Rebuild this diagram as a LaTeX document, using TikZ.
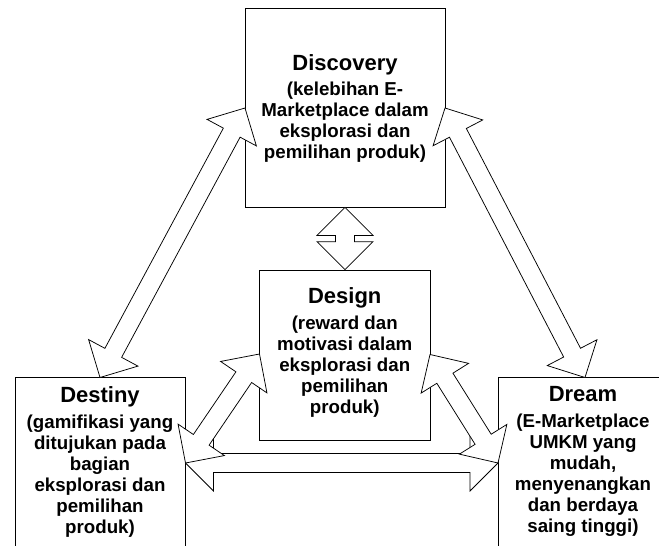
\documentclass[tikz,border=0pt]{standalone}
\usepackage{fontspec}
\setmainfont{Liberation Sans}
\usetikzlibrary{calc}
\tikzset{
  box/.style={draw=black, fill=white, line width=0.75pt, inner sep=0pt},
  arrowshape/.style={draw=black, fill=white, line width=0.75pt, line join=miter},
  label/.style={align=center, inner sep=0pt, anchor=north, text=black,
    font=\fontsize{18.7}{21}\selectfont\bfseries},
}
\newcommand\ttl[1]{{\fontsize{22}{21}\selectfont #1}\\[4.5pt]}
\newcommand\dblarr[2]{%
  \coordinate (h1) at ($(#1)!28pt!(#2)$);
  \coordinate (h2) at ($(#2)!28pt!(#1)$);
  \draw[arrowshape] (#1) -- ($(h1)!28pt!90:(#2)$) -- ($(h1)!9.5pt!90:(#2)$)
    -- ($(h2)!9.5pt!-90:(#1)$) -- ($(h2)!28pt!-90:(#1)$) -- (#2)
    -- ($(h2)!28pt!90:(#1)$) -- ($(h2)!9.5pt!90:(#1)$)
    -- ($(h1)!9.5pt!-90:(#2)$) -- ($(h1)!28pt!-90:(#2)$) -- cycle;
}
\begin{document}
\begin{tikzpicture}[x=1pt, y=-1pt]
\useasboundingbox (0,0) rectangle (659,546);
% boxes
\node[box, minimum width=200pt, minimum height=199pt] (discovery) at (345,107.5) {};
\node[box, minimum width=170.5pt, minimum height=170pt] (design) at (344.75,355) {};
\node[box, minimum width=170pt, minimum height=182.5pt] (destiny) at (100,468.75) {};
\node[box, minimum width=170pt, minimum height=182.5pt] (dream) at (583,468.75) {};
% arrow end points
\coordinate (vt) at (discovery.south);
\coordinate (vb) at (vt |- design.north);
\coordinate (hl) at (185.5,463);
\coordinate (hr) at (498,463);
\coordinate (dgl) at (259.5,354);
\coordinate (dgr) at (430,354.5);
\coordinate (dsl) at (245,108);
\coordinate (dsr) at (445,108);
\coordinate (dtl) at (100,377.5);
\coordinate (dtr) at (585,377.5);
% arrows
\dblarr{hl}{hr}
\dblarr{dgl}{hl}
\dblarr{dgr}{hr}
\dblarr{dsl}{dtl}
\dblarr{dsr}{dtr}
\dblarr{vt}{vb}
% texts
\node[label] (t1) at (345,54) {\ttl{Discovery}(kelebihan E-\\Marketplace dalam\\eksplorasi dan\\pemilihan produk)};
\node[label] (t2) at (344.75,287.5) {\ttl{Design}(reward dan\\motivasi dalam\\eksplorasi dan\\pemilihan\\produk)};
\node[label] (t3) at (100,386.5) {\ttl{Destiny}(gamifikasi yang\\ditujukan pada\\bagian\\eksplorasi dan\\pemilihan\\produk)};
\node[label] (t4) at (583,386.5) {\ttl{Dream}(E-Marketplace\\UMKM yang\\mudah,\\menyenangkan\\dan berdaya\\saing tinggi)};
\end{tikzpicture}
\end{document}
